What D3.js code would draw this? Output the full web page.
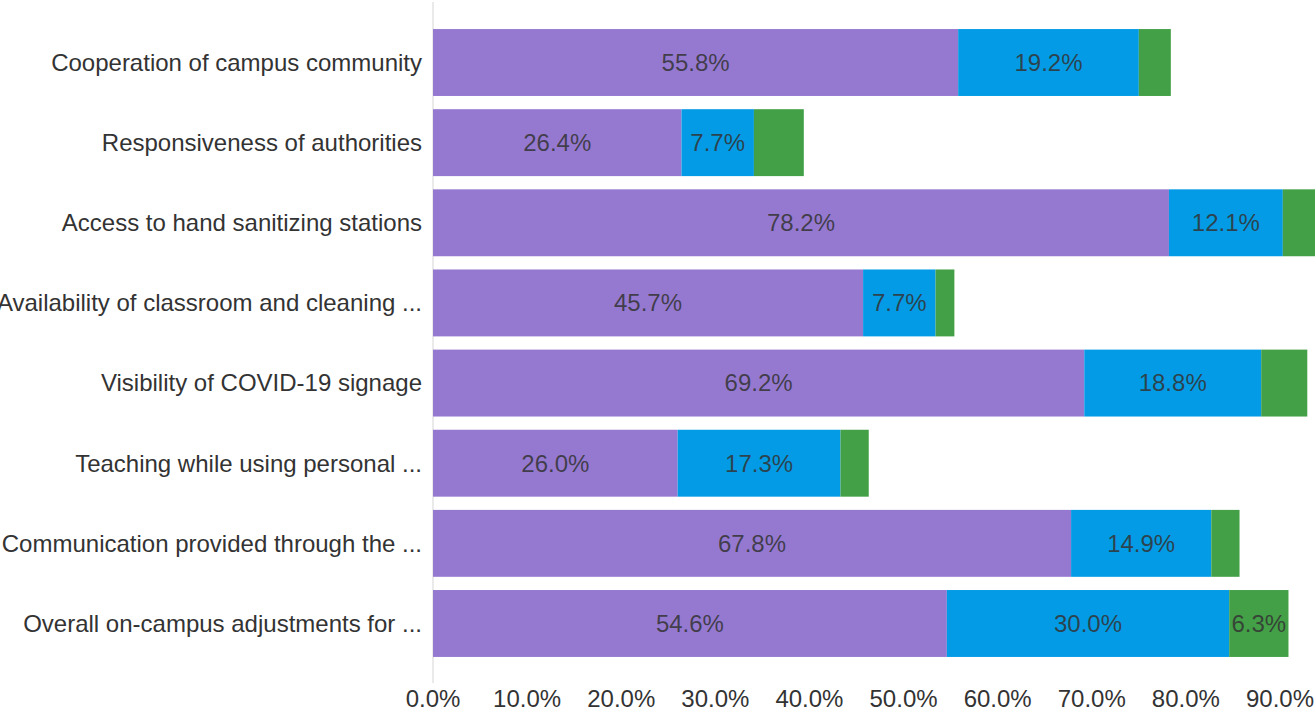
<!DOCTYPE html>
<html>
<head>
<meta charset="utf-8">
<script src="https://cdn.jsdelivr.net/npm/d3@7"></script>
<style>
  body { margin: 0; background: #fff; }
  text { font-family: "Liberation Sans", Arial, sans-serif; }
</style>
</head>
<body>
<div id="chart"></div>
<script>
// categories, top to bottom
var categories = [
    "Cooperation of campus community",
    "Responsiveness of authorities",
    "Access to hand sanitizing stations",
    "Availability of classroom and cleaning ...",
    "Visibility of COVID-19 signage",
    "Teaching while using personal ...",
    "Communication provided through the ...",
    "Overall on-campus adjustments for ..."
];
// three stacked series (percent)
var seriesA = [55.8, 26.4, 78.2, 45.7, 69.2, 26.0, 67.8, 54.6];
var seriesB = [19.2, 7.7, 12.1, 7.7, 18.8, 17.3, 14.9, 30.0];
var seriesC = [3.4, 5.3, 3.6, 2.0, 4.9, 3.0, 3.0, 6.3];
var seriesColors = ["#9579d1", "#039be5", "#43a047"];
var xTicks = [0, 10, 20, 30, 40, 50, 60, 70, 80, 90];

var width = 1315, height = 710;

var svg = d3.select("#chart").append("svg")
    .attr("width", width)
    .attr("height", height);

var x = d3.scaleLinear().domain([0, 90]).range([433, 1280]);
var y = d3.scaleBand().domain(categories).range([22.4, 663.6]).paddingInner(0.165).paddingOuter(0.083);

// rows for stacking
var rows = categories.map((c, i) => ({ cat: c, a: seriesA[i], b: seriesB[i], c: seriesC[i] }));
var stack = d3.stack().keys(["a", "b", "c"]);
var stacked = stack(rows);

// axis line
svg.append("line")
    .attr("x1", x(0)).attr("x2", x(0))
    .attr("y1", 2).attr("y2", 683)
    .attr("stroke", "#e3e3e3")
    .attr("stroke-width", 1.5);

var layers = svg.append("g").selectAll("g")
    .data(stacked)
    .enter().append("g")
    .attr("fill", (d, i) => seriesColors[i]);

layers.selectAll("rect")
    .data(d => d)
    .enter().append("rect")
    .attr("x", d => x(d[0]))
    .attr("y", d => y(d.data.cat))
    .attr("width", d => x(d[1]) - x(d[0]))
    .attr("height", y.bandwidth());

// value labels, only when they fit in the segment
layers.selectAll("text")
    .data(d => d)
    .enter().append("text")
    .attr("x", d => (x(d[0]) + x(d[1])) / 2)
    .attr("y", d => y(d.data.cat) + y.bandwidth() / 2)
    .attr("dy", "0.35em")
    .attr("text-anchor", "middle")
    .attr("font-size", 24)
    .attr("fill", "#333")
    .attr("fill-opacity", 0.85)
    .text(d => (d[1] - d[0]).toFixed(1) + "%")
    .each(function (d) {
        var w = x(d[1]) - x(d[0]);
        if (this.getComputedTextLength() > w) d3.select(this).remove();
    });

// category labels
svg.append("g").selectAll("text")
    .data(categories)
    .enter().append("text")
    .attr("x", 422)
    .attr("y", d => y(d) + y.bandwidth() / 2)
    .attr("dy", "0.35em")
    .attr("text-anchor", "end")
    .attr("font-size", 24)
    .attr("fill", "#333")
    .text(d => d);

// x tick labels
svg.append("g").selectAll("text")
    .data(xTicks)
    .enter().append("text")
    .attr("x", d => x(d))
    .attr("y", 707)
    .attr("text-anchor", "middle")
    .attr("font-size", 24)
    .attr("fill", "#333")
    .text(d => d.toFixed(1) + "%");
</script>
</body>
</html>
